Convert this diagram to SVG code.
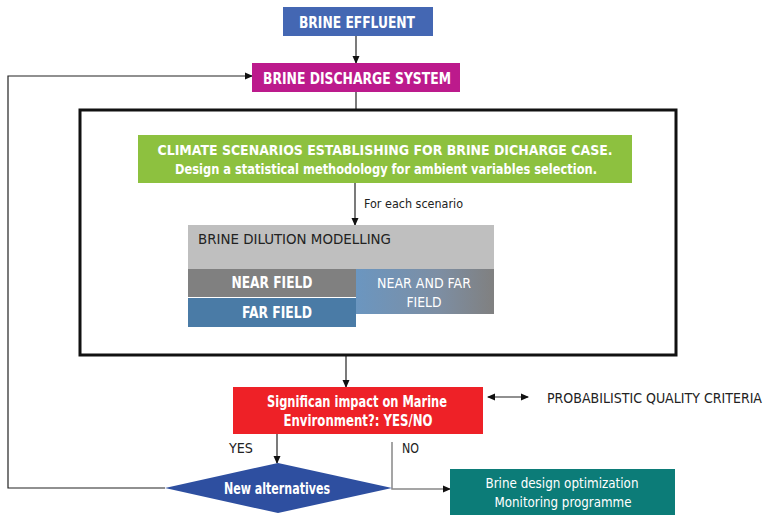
<svg xmlns="http://www.w3.org/2000/svg" width="764" height="516" viewBox="0 0 764 516">
<style>
.b{font-family:"Liberation Sans Narrow","DejaVu Sans Condensed","Liberation Sans",sans-serif;font-weight:bold;fill:#fff;text-anchor:middle}
.n{font-family:"Liberation Sans Narrow","DejaVu Sans Condensed","Liberation Sans",sans-serif;fill:#222}
.w{font-family:"Liberation Sans Narrow","DejaVu Sans Condensed","Liberation Sans",sans-serif;fill:#fff;text-anchor:middle}
.ln{stroke:#222;stroke-width:1.2;fill:none}
</style>
<defs>
<marker id="ah" markerWidth="8" markerHeight="8" refX="7" refY="4" orient="auto" markerUnits="userSpaceOnUse"><path d="M0,0.5 L8,4 L0,7.5 Z" fill="#111"/></marker>
<marker id="as" markerWidth="8" markerHeight="8" refX="1" refY="4" orient="auto" markerUnits="userSpaceOnUse"><path d="M8,0.5 L0,4 L8,7.5 Z" fill="#111"/></marker>
<linearGradient id="gnf" x1="0" y1="0" x2="1" y2="0"><stop offset="0" stop-color="#6B96C0"/><stop offset="0.6" stop-color="#7D8EA3"/><stop offset="1" stop-color="#808080"/></linearGradient>
</defs>
<rect width="764" height="516" fill="#fff"/>
<g id="connectors">
<line class="ln" x1="356" y1="36" x2="356" y2="63" marker-end="url(#ah)"/>
<line class="ln" x1="356" y1="92" x2="356" y2="110"/>
<polyline class="ln" points="165,488 8,488 8,76 252,76" marker-end="url(#ah)" stroke="#333"/>
<line class="ln" x1="355" y1="183" x2="355" y2="225" marker-end="url(#ah)"/>
<line class="ln" x1="346" y1="355" x2="346" y2="387" marker-end="url(#ah)"/>
<line class="ln" x1="488" y1="397" x2="528" y2="397" marker-start="url(#as)" marker-end="url(#ah)"/>
<line class="ln" x1="277" y1="434" x2="277" y2="463" marker-end="url(#ah)"/>
<polyline points="392,442 392,489 450,489" fill="none" stroke="#888" stroke-width="1.5" marker-end="url(#ah)"/>
</g>
<g id="frame"><rect x="80" y="110" width="596" height="245" fill="none" stroke="#111" stroke-width="3"/></g>
<g id="brine-effluent"><rect x="283" y="7" width="150" height="29" fill="#4467B3"/><text class="b" x="357" y="28" font-size="16" textLength="116" lengthAdjust="spacingAndGlyphs">BRINE EFFLUENT</text></g>
<g id="brine-discharge"><rect x="252" y="63" width="208" height="29" fill="#BC1A8C"/><text class="b" x="357" y="83.5" font-size="16" textLength="188" lengthAdjust="spacingAndGlyphs">BRINE DISCHARGE SYSTEM</text></g>
<g id="climate"><rect x="138" y="135" width="494" height="48" fill="#8DC13F"/>
<text class="b" x="385" y="155" font-size="14.5" textLength="455" lengthAdjust="spacingAndGlyphs">CLIMATE SCENARIOS ESTABLISHING FOR BRINE DICHARGE CASE.</text>
<text class="b" x="386" y="174" font-size="14.5" textLength="422" lengthAdjust="spacingAndGlyphs">Design a statistical methodology for ambient variables selection.</text></g>
<g id="label-scenario"><text class="n" x="364" y="208" font-size="12.5" textLength="99" lengthAdjust="spacingAndGlyphs">For each scenario</text></g>
<g id="dilution"><rect x="188" y="225" width="306" height="44" fill="#BFBFBF"/><text class="n" x="198" y="244" font-size="14" textLength="193" lengthAdjust="spacingAndGlyphs">BRINE DILUTION MODELLING</text></g>
<g id="near-field"><rect x="188" y="269" width="168" height="28" fill="#808080"/><text class="b" x="272" y="288" font-size="15" textLength="81" lengthAdjust="spacingAndGlyphs">NEAR FIELD</text></g>
<g id="far-field"><rect x="188" y="298" width="168" height="29" fill="#4A7BA6"/><text class="b" x="277" y="318" font-size="15" textLength="70" lengthAdjust="spacingAndGlyphs">FAR FIELD</text></g>
<g id="near-far-field"><rect x="356" y="269" width="138" height="45" fill="url(#gnf)"/>
<text class="w" x="424" y="288" font-size="14" textLength="94" lengthAdjust="spacingAndGlyphs">NEAR AND FAR</text>
<text class="w" x="424" y="307" font-size="14" textLength="35" lengthAdjust="spacingAndGlyphs">FIELD</text></g>
<g id="impact"><rect x="233" y="387" width="250" height="47" fill="#EE2127"/>
<text class="b" x="357" y="407" font-size="15" textLength="180" lengthAdjust="spacingAndGlyphs">Significan impact on Marine</text>
<text class="b" x="358" y="426" font-size="15" textLength="149" lengthAdjust="spacingAndGlyphs">Environment?: YES/NO</text></g>
<g id="criteria"><text class="n" x="547" y="403" font-size="13.5" textLength="215" lengthAdjust="spacingAndGlyphs">PROBABILISTIC QUALITY CRITERIA</text></g>
<g id="labels"><text class="n" x="229" y="453" font-size="13.5" textLength="24" lengthAdjust="spacingAndGlyphs">YES</text><text class="n" x="402" y="453" font-size="13.5" textLength="17" lengthAdjust="spacingAndGlyphs">NO</text></g>
<g id="new-alternatives"><polygon points="165,488 278,463 392,488 278,513" fill="#2E4FA0"/><text class="b" x="277" y="494" font-size="15" textLength="106" lengthAdjust="spacingAndGlyphs">New alternatives</text></g>
<g id="optimization"><rect x="450" y="469" width="225" height="46" fill="#0C7C78"/>
<text class="w" x="562" y="488" font-size="14" textLength="153" lengthAdjust="spacingAndGlyphs">Brine design optimization</text>
<text class="w" x="563" y="507" font-size="14" textLength="137" lengthAdjust="spacingAndGlyphs">Monitoring programme</text></g>
</svg>
